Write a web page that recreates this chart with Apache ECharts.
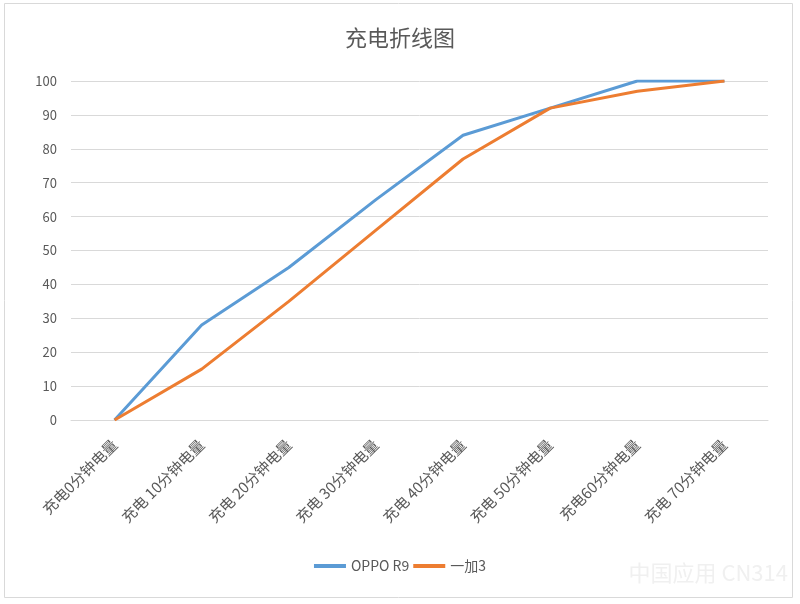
<!DOCTYPE html>
<html>
<head>
<meta charset="utf-8">
<script src="https://cdn.jsdelivr.net/npm/echarts@6/dist/echarts.min.js"></script>
<style>
  html, body { margin: 0; padding: 0; background: #fff; }
  #chart { width: 800px; height: 604px; }
</style>
</head>
<body>
<div id="chart"></div>
<script>
// chart data
const categories = ['充电0分钟电量', '充电 10分钟电量', '充电 20分钟电量', '充电 30分钟电量',
  '充电 40分钟电量', '充电 50分钟电量', '充电60分钟电量', '充电 70分钟电量']
const oppoR9 = [0, 28, 45, 65, 84, 92, 100, 100]
const oneplus3 = [0, 15, 35, 56, 77, 92, 97, 100]
const seriesNames = ['OPPO R9', '一加3']

const font = '"Noto Sans CJK SC", "Noto Sans", sans-serif'
const chart = echarts.init(document.getElementById('chart'))

chart.setOption({
  animation: false,
  textStyle: { fontFamily: font },
  title: {
    text: '充电折线图',
    left: 'center',
    top: 22,
    textStyle: { fontSize: 22, fontWeight: 'normal', color: '#595959', fontFamily: font }
  },
  graphic: [
    {
      type: 'rect',
      shape: { x: 4.5, y: 3.5, width: 788, height: 594 },
      style: { fill: 'none', stroke: '#d9d9d9', lineWidth: 1 }
    },
    {
      type: 'text',
      right: 12,
      bottom: 20,
      style: { text: '中国应用 CN314', fontSize: 22, fill: '#f0f0f0', fontFamily: font }
    }
  ],
  legend: {
    data: seriesNames,
    bottom: 26,
    left: 'center',
    itemWidth: 32,
    itemHeight: 4,
    itemGap: 4,
    icon: 'rect',
    textStyle: { fontSize: 14, color: '#595959', fontFamily: font }
  },
  grid: { left: 71, right: 32, top: 81, bottom: 184 },
  xAxis: {
    type: 'category',
    data: categories,
    boundaryGap: true,
    axisLine: { lineStyle: { color: '#d9d9d9', width: 1 } },
    axisTick: { show: false },
    axisLabel: {
      rotate: 45,
      interval: 0,
      margin: 22,
      fontSize: 15,
      color: '#595959',
      fontFamily: font
    }
  },
  yAxis: {
    type: 'value',
    min: 0,
    max: 100,
    interval: 10,
    axisLine: { show: false },
    axisTick: { show: false },
    axisLabel: { fontSize: 13, color: '#595959', margin: 14, fontFamily: font },
    splitLine: { lineStyle: { color: '#d9d9d9', width: 1 } }
  },
  series: [
    {
      name: seriesNames[0],
      type: 'line',
      data: oppoR9,
      symbol: 'none',
      lineStyle: { width: 3, color: '#5b9bd5' },
      itemStyle: { color: '#5b9bd5' }
    },
    {
      name: seriesNames[1],
      type: 'line',
      data: oneplus3,
      symbol: 'none',
      lineStyle: { width: 3, color: '#ed7d31' },
      itemStyle: { color: '#ed7d31' }
    }
  ]
})
</script>
</body>
</html>
